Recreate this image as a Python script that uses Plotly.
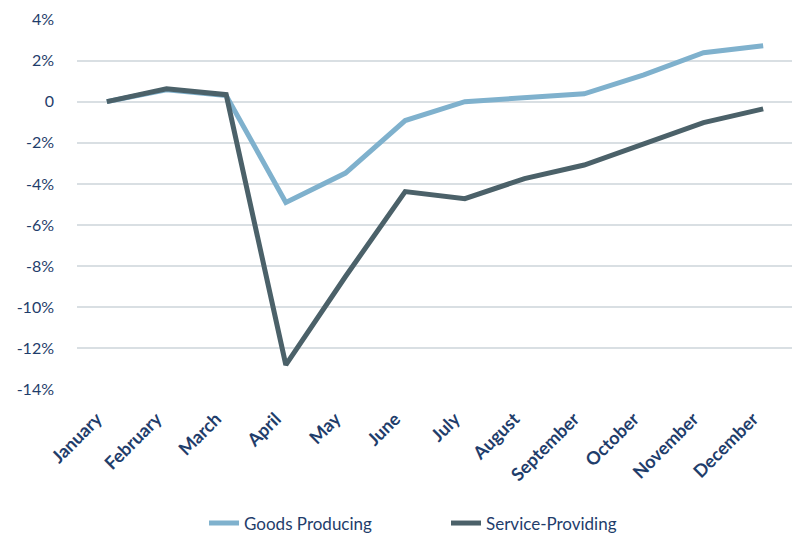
import plotly.graph_objects as go

months = ["January", "February", "March", "April", "May", "June", "July",
          "August", "September", "October", "November", "December"]
goods = [0.0, 0.58, 0.3, -4.9, -3.47, -0.92, 0.0, 0.18, 0.38, 1.3, 2.38, 2.72]
service = [0.0, 0.63, 0.34, -12.8, -8.5, -4.37, -4.72, -3.74, -3.08, -2.06, -1.02, -0.35]
ytick_vals = [4, 2, 0, -2, -4, -6, -8, -10, -12, -14]
ytick_text = ["4%", "2%", "0", "-2%", "-4%", "-6%", "-8%", "-10%", "-12%", "-14%"]

text_color = "#1F3D6B"
font_family = "Lato, 'Open Sans', sans-serif"

fig = go.Figure()
fig.add_trace(go.Scatter(x=months, y=goods, mode="lines", name="Goods Producing",
                         line=dict(color="#7FB1CD", width=5)))
fig.add_trace(go.Scatter(x=months, y=service, mode="lines", name="Service-Providing",
                         line=dict(color="#4B6169", width=5)))

# page body adds an 8px offset, so the figure is 792x526
fig.update_layout(
    width=792, height=526,
    margin=dict(l=69, r=7, t=11, b=144),
    paper_bgcolor="white", plot_bgcolor="white",
    font=dict(family=font_family, color=text_color, size=16),
    showlegend=True,
    legend=dict(orientation="h", xref="container", yref="container",
                x=0.2475, xanchor="left", y=0.02, yanchor="middle",
                font=dict(size=17, color=text_color),
                entrywidth=197, entrywidthmode="pixels",
                tracegroupgap=0, traceorder="normal"),
)
fig.update_xaxes(
    type="category", range=[-0.5, 11.5], tickangle=-45, automargin=False,
    tickfont=dict(size=18, color=text_color, family=font_family, weight="bold"),
    showgrid=False, showline=False, zeroline=False, ticks="",
    ticklabelstandoff=14, ticklabelshift=-10,
)
fig.update_yaxes(
    range=[-14.02, 4.02], tickvals=ytick_vals, ticktext=ytick_text, automargin=False,
    showgrid=True, gridcolor="#D9DFE3", gridwidth=1.5,
    zeroline=True, zerolinecolor="#D9DFE3", zerolinewidth=1.5,
    showline=False, ticks="", ticklabelstandoff=22,
    tickfont=dict(size=16, color=text_color),
)

fig.write_html("out.html")
